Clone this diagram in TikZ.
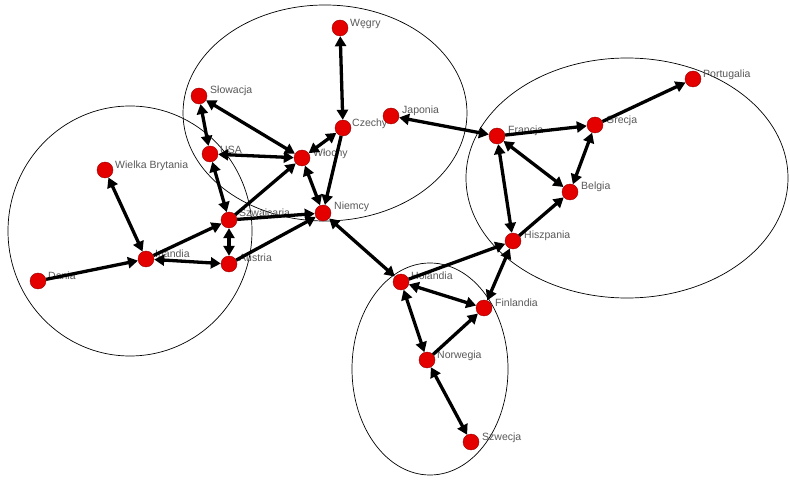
\documentclass[tikz,border=0pt]{standalone}
\usepackage{fontspec}
\setmainfont{Liberation Sans}
\usetikzlibrary{arrows.meta}
\begin{document}
\begin{tikzpicture}[x=1pt,y=-1pt,
  country/.style={circle,fill=red!90!black,draw=red!60!black,line width=0.4pt,minimum size=16pt,inner sep=0pt},
  lab/.style={anchor=west,font=\fontsize{10.5}{12}\selectfont,text=black!65,inner sep=0pt},
  grp/.style={draw=black,line width=0.7pt},
  one/.style={line width=3.3pt,-{Triangle[length=10pt,width=11pt]}},
  two/.style={line width=3.3pt,{Triangle[length=10pt,width=11pt]}-{Triangle[length=10pt,width=11pt]}}]
\useasboundingbox[fill=white] (0,0) rectangle (790,494);
% groups
\draw[grp] (130,231) ellipse [x radius=122, y radius=125];
\draw[grp] (325,113) ellipse [x radius=142, y radius=108];
\draw[grp] (627,178) ellipse [x radius=161, y radius=120];
\draw[grp] (430,369) ellipse [x radius=78, y radius=106];
% labels (under the connectors)
\node[lab] (lweg) at (350,24) {Węgry};
\node[lab] (lslo) at (210,91) {Słowacja};
\node[lab] (lusa) at (220,150) {USA};
\node[lab] (lwb) at (115,166) {Wielka Brytania};
\node[lab] (lwlo) at (313,154) {Włochy};
\node[lab] (lcze) at (352,124) {Czechy};
\node[lab] (ljap) at (402,111) {Japonia};
\node[lab] (lfra) at (508,131) {Francja};
\node[lab] (lgre) at (606,121) {Grecja};
\node[lab] (lpor) at (703,75) {Portugalia};
\node[lab] (lbel) at (581,187) {Belgia};
\node[lab] (lhis) at (524,236) {Hiszpania};
\node[lab] (lnie) at (334,207) {Niemcy};
\node[lab] (lszw) at (239,214) {Szwajcaria};
\node[lab] (lirl) at (155,254) {Irlandia};
\node[lab] (laus) at (239,258) {Austria};
\node[lab] (ldan) at (48,276) {Dania};
\node[lab] (lhol) at (411,276) {Holandia};
\node[lab] (lfin) at (495,303) {Finlandia};
\node[lab] (lnor) at (437,356) {Norwegia};
\node[lab] (lsze) at (482,438) {Szwecja};
% nodes
\node[country] (weg) at (340,28) {};
\node[country] (slo) at (199,96) {};
\node[country] (usa) at (210,154) {};
\node[country] (wb) at (105,170) {};
\node[country] (wlo) at (302,158) {};
\node[country] (cze) at (343,128) {};
\node[country] (jap) at (391,116) {};
\node[country] (fra) at (497,136) {};
\node[country] (gre) at (595,125) {};
\node[country] (por) at (693,79) {};
\node[country] (bel) at (570,192) {};
\node[country] (his) at (513,241) {};
\node[country] (nie) at (323,213) {};
\node[country] (szw) at (229,220) {};
\node[country] (irl) at (146,259) {};
\node[country] (aus) at (229,264) {};
\node[country] (dan) at (38,281) {};
\node[country] (hol) at (401,282) {};
\node[country] (fin) at (484,308) {};
\node[country] (nor) at (427,360) {};
\node[country] (sze) at (471,442) {};
% edges
\draw[one] (dan) -- (irl);
\draw[two] (wb) -- (irl);
\draw[two] (irl) -- (aus);
\draw[one] (irl) -- (szw);
\draw[two] (szw) -- (aus);
\draw[two] (usa) -- (szw);
\draw[two] (slo) -- (usa);
\draw[two] (wlo) -- (slo);
\draw[two] (usa) -- (wlo);
\draw[one] (szw) -- (wlo);
\draw[one] (szw) -- (nie);
\draw[one] (aus) -- (nie);
\draw[two] (wlo) -- (nie);
\draw[one] (cze) -- (nie);
\draw[two] (wlo) -- (cze);
\draw[two] (weg) -- (cze);
\draw[two] (jap) -- (fra);
\draw[one] (fra) -- (gre);
\draw[one] (gre) -- (por);
\draw[two] (fra) -- (bel);
\draw[two] (gre) -- (bel);
\draw[two] (fra) -- (his);
\draw[one] (his) -- (bel);
\draw[one] (hol) -- (his);
\draw[two] (fin) -- (his);
\draw[two] (nie) -- (hol);
\draw[two] (hol) -- (fin);
\draw[two] (hol) -- (nor);
\draw[one] (nor) -- (fin);
\draw[two] (nor) -- (sze);
\end{tikzpicture}
\end{document}
